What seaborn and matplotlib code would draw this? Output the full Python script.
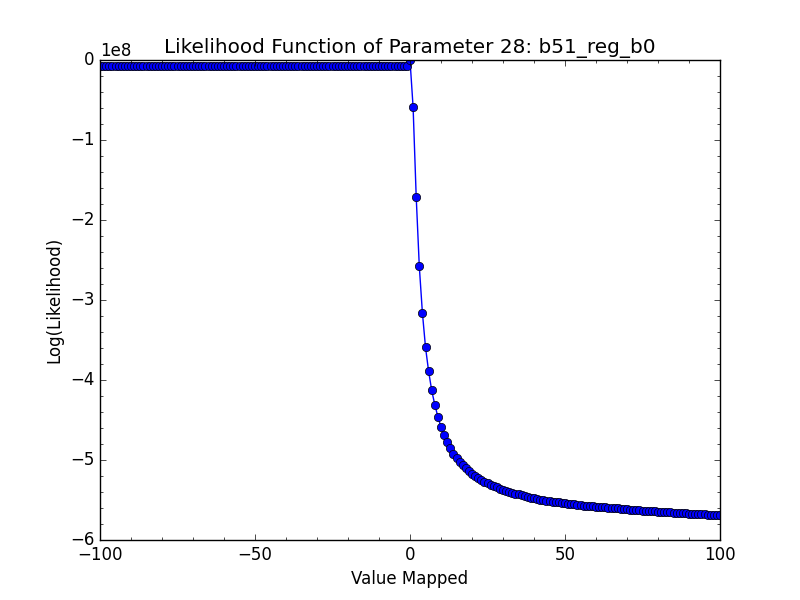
import numpy as np
import pandas as pd
import matplotlib
matplotlib.use('Agg')
import matplotlib.pyplot as plt
import seaborn as sns

# parameter values that were mapped
value_mapped = list(range(-100, 101))

# log likelihood in units of 1e8
# x = -100 .. -1 (flat)
loglik_left = [
    -0.075, -0.075, -0.075, -0.075, -0.075, -0.075, -0.075, -0.075, -0.075, -0.075,
    -0.075, -0.075, -0.075, -0.075, -0.075, -0.075, -0.075, -0.075, -0.075, -0.075,
    -0.075, -0.075, -0.075, -0.075, -0.075, -0.075, -0.075, -0.075, -0.075, -0.075,
    -0.075, -0.075, -0.075, -0.075, -0.075, -0.075, -0.075, -0.075, -0.075, -0.075,
    -0.075, -0.075, -0.075, -0.075, -0.075, -0.075, -0.075, -0.075, -0.075, -0.075,
    -0.075, -0.075, -0.075, -0.075, -0.075, -0.075, -0.075, -0.075, -0.075, -0.075,
    -0.075, -0.075, -0.075, -0.075, -0.075, -0.075, -0.075, -0.075, -0.075, -0.075,
    -0.075, -0.075, -0.075, -0.075, -0.075, -0.075, -0.075, -0.075, -0.075, -0.075,
    -0.075, -0.075, -0.075, -0.075, -0.075, -0.075, -0.075, -0.075, -0.075, -0.075,
    -0.075, -0.075, -0.075, -0.075, -0.075, -0.075, -0.075, -0.075, -0.075, -0.075,
]
# x = 0 .. 100
loglik_right = [
    0.0,
    -0.59, -1.71, -2.58, -3.16, -3.59, -3.89, -4.13, -4.31, -4.46, -4.59,
    -4.69, -4.78, -4.85, -4.92, -4.97, -5.02, -5.06, -5.10, -5.14, -5.17,
    -5.20, -5.22, -5.25, -5.27, -5.29, -5.31, -5.33, -5.34, -5.36, -5.37,
    -5.39, -5.40, -5.41, -5.42, -5.43, -5.44, -5.45, -5.46, -5.47, -5.48,
    -5.49, -5.495, -5.50, -5.51, -5.515, -5.52, -5.525, -5.53, -5.535, -5.54,
    -5.545, -5.55, -5.555, -5.56, -5.565, -5.57, -5.573, -5.576, -5.58, -5.583,
    -5.586, -5.59, -5.593, -5.596, -5.60, -5.603, -5.606, -5.61, -5.613, -5.616,
    -5.62, -5.623, -5.626, -5.63, -5.632, -5.635, -5.637, -5.64, -5.642, -5.645,
    -5.647, -5.65, -5.652, -5.655, -5.657, -5.66, -5.662, -5.665, -5.667, -5.67,
    -5.672, -5.674, -5.676, -5.678, -5.68, -5.682, -5.684, -5.686, -5.688, -5.69,
]

df = pd.DataFrame({
    'Value Mapped': value_mapped,
    'Log(Likelihood)': np.array(loglik_left + loglik_right) * 1e8,
})

# old-style matplotlib look
plt.style.use('classic')
plt.rcParams['figure.facecolor'] = 'white'
plt.rcParams['savefig.facecolor'] = 'white'
plt.rcParams['font.family'] = ['DejaVu Sans']

fig, ax = plt.subplots(figsize=(8, 6), dpi=100)

sns.lineplot(data=df, x='Value Mapped', y='Log(Likelihood)', ax=ax,
             color='b', marker='o', markersize=6, markeredgecolor='k',
             markeredgewidth=0.5, linewidth=1.0)

ax.set_xlim(-100, 100)
ax.set_ylim(-6e8, 0)
ax.minorticks_on()
ax.set_title('Likelihood Function of Parameter 28: b51_reg_b0')
ax.set_xlabel('Value Mapped')
ax.set_ylabel('Log(Likelihood)')

fig.savefig('out.png', dpi=100)
